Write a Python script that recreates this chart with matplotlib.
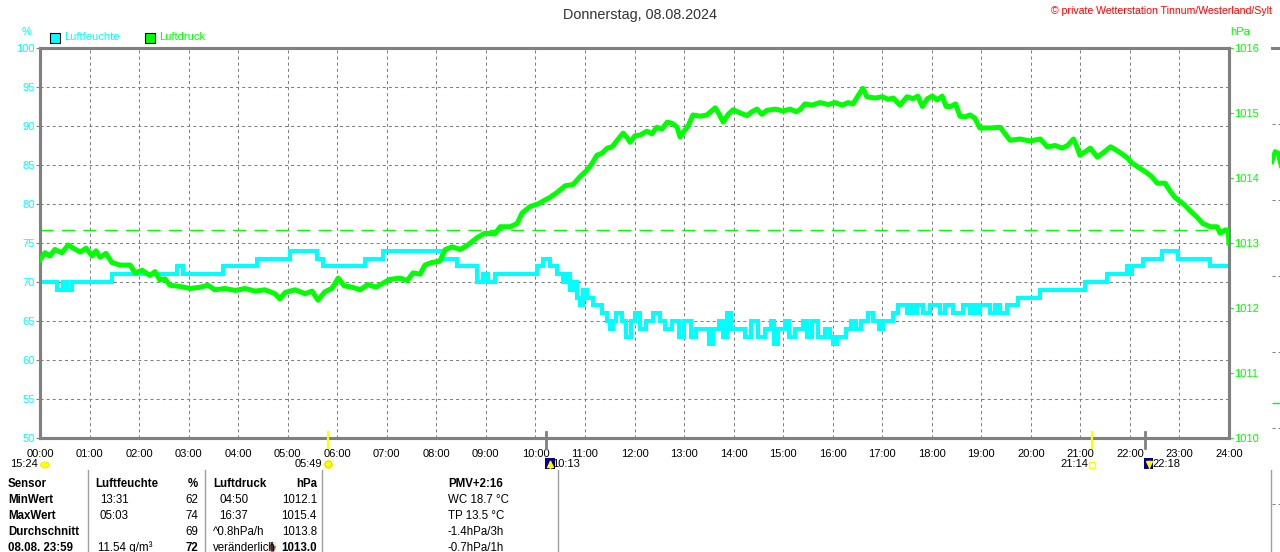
import matplotlib
matplotlib.use("Agg")
import matplotlib.pyplot as plt
from matplotlib.patches import Rectangle, Ellipse
from matplotlib.lines import Line2D
from matplotlib.transforms import blended_transform_factory

plt.rcParams['font.family'] = ['Liberation Sans', 'DejaVu Sans']
plt.rcParams['lines.scale_dashes'] = False

# ---------------- data ----------------
title = "Donnerstag, 08.08.2024"
copyright_text = "© private Wetterstation Tinnum/Westerland/Sylt"

hum_name = "Luftfeuchte"
pres_name = "Luftdruck"

hum_t = [0.00, 0.34, 0.46, 0.55, 0.65, 1.45, 2.77, 2.89, 3.69, 4.38,
         5.05, 5.59, 5.71, 6.56, 6.92, 8.11, 8.42, 8.82, 8.94, 9.04,
         9.18, 10.03, 10.15, 10.29, 10.44, 10.56, 10.64, 10.70, 10.78, 10.84,
         10.90, 10.96, 11.04, 11.16, 11.34, 11.45, 11.51, 11.57, 11.63, 11.75,
         11.83, 11.93, 12.01, 12.11, 12.23, 12.37, 12.51, 12.62, 12.76, 12.90,
         13.00, 13.14, 13.24, 13.50, 13.59, 13.71, 13.79, 13.87, 13.95, 14.23,
         14.35, 14.49, 14.63, 14.76, 14.82, 14.90, 15.04, 15.12, 15.24, 15.40,
         15.48, 15.58, 15.70, 15.85, 15.95, 16.01, 16.09, 16.27, 16.37, 16.47,
         16.57, 16.71, 16.81, 16.94, 17.02, 17.22, 17.32, 17.50, 17.56, 17.62,
         17.70, 17.82, 17.97, 18.17, 18.27, 18.43, 18.63, 18.77, 18.83, 18.91,
         18.97, 19.18, 19.28, 19.38, 19.52, 19.74, 20.19, 21.09, 21.54, 21.94,
         21.98, 22.04, 22.27, 22.65, 22.97, 23.62, 24.00]
hum_v = [70, 69, 70, 69, 70, 71, 72, 71, 72, 73,
         74, 73, 72, 73, 74, 73, 72, 70, 71, 70,
         71, 72, 73, 72, 71, 70, 71, 69, 70, 68,
         67, 69, 68, 67, 66, 65, 64, 65, 66, 65,
         63, 65, 66, 64, 65, 66, 65, 64, 65, 63,
         65, 63, 64, 62, 64, 65, 63, 66, 64, 63,
         65, 63, 64, 65, 62, 64, 65, 63, 64, 65,
         63, 65, 63, 64, 63, 62, 63, 64, 65, 64,
         65, 66, 65, 64, 65, 66, 67, 66, 67, 66,
         67, 66, 67, 66, 67, 66, 67, 66, 67, 66,
         67, 66, 67, 66, 67, 68, 69, 70, 71, 72,
         71, 72, 73, 74, 73, 72, 72]

pres_t = [0.00, 0.10, 0.20, 0.30, 0.44, 0.57, 0.67, 0.81, 0.93, 1.05,
          1.13, 1.21, 1.33, 1.45, 1.61, 1.82, 1.92, 2.06, 2.22, 2.32,
          2.42, 2.52, 2.62, 2.83, 3.03, 3.23, 3.39, 3.53, 3.73, 3.94,
          4.14, 4.34, 4.54, 4.74, 4.84, 4.95, 5.15, 5.35, 5.49, 5.61,
          5.75, 5.89, 6.02, 6.14, 6.30, 6.46, 6.62, 6.78, 6.92, 7.06,
          7.27, 7.41, 7.53, 7.67, 7.77, 7.91, 8.07, 8.18, 8.32, 8.48,
          8.62, 8.82, 8.98, 9.18, 9.29, 9.49, 9.63, 9.73, 9.89, 10.05,
          10.19, 10.29, 10.44, 10.60, 10.76, 10.90, 11.04, 11.14, 11.24, 11.34,
          11.45, 11.55, 11.65, 11.77, 11.85, 11.91, 12.01, 12.11, 12.25, 12.35,
          12.45, 12.55, 12.66, 12.76, 12.86, 12.92, 13.00, 13.08, 13.18, 13.32,
          13.46, 13.63, 13.71, 13.79, 13.89, 13.99, 14.13, 14.27, 14.37, 14.47,
          14.57, 14.67, 14.84, 15.00, 15.14, 15.26, 15.34, 15.44, 15.58, 15.74,
          15.91, 16.05, 16.19, 16.31, 16.41, 16.50, 16.61, 16.69, 16.85, 17.00,
          17.12, 17.22, 17.36, 17.50, 17.62, 17.72, 17.81, 17.91, 18.01, 18.11,
          18.21, 18.29, 18.38, 18.48, 18.57, 18.67, 18.77, 18.87, 18.97, 19.18,
          19.38, 19.48, 19.58, 19.78, 19.98, 20.19, 20.33, 20.49, 20.63, 20.74,
          20.86, 20.93, 20.99, 21.09, 21.20, 21.34, 21.48, 21.61, 21.74, 21.86,
          21.96, 22.04, 22.20, 22.34, 22.44, 22.55, 22.71, 22.81, 22.91, 23.01,
          23.11, 23.21, 23.35, 23.47, 23.62, 23.76, 23.82, 23.92, 23.98, 24.00]
pres_v = [1012.74, 1012.85, 1012.80, 1012.90, 1012.85, 1012.97, 1012.92, 1012.86, 1012.92, 1012.80,
          1012.88, 1012.78, 1012.84, 1012.70, 1012.66, 1012.66, 1012.54, 1012.58, 1012.50, 1012.56,
          1012.43, 1012.45, 1012.35, 1012.33, 1012.30, 1012.32, 1012.35, 1012.28, 1012.30, 1012.27,
          1012.30, 1012.26, 1012.28, 1012.22, 1012.14, 1012.24, 1012.28, 1012.22, 1012.26, 1012.12,
          1012.25, 1012.30, 1012.46, 1012.34, 1012.32, 1012.28, 1012.36, 1012.32, 1012.38, 1012.44,
          1012.46, 1012.42, 1012.54, 1012.52, 1012.66, 1012.70, 1012.72, 1012.90, 1012.94, 1012.90,
          1012.96, 1013.08, 1013.15, 1013.14, 1013.25, 1013.25, 1013.30, 1013.46, 1013.56, 1013.60,
          1013.66, 1013.70, 1013.78, 1013.88, 1013.90, 1014.02, 1014.12, 1014.22, 1014.35, 1014.38,
          1014.46, 1014.48, 1014.58, 1014.69, 1014.62, 1014.55, 1014.65, 1014.66, 1014.72, 1014.68,
          1014.78, 1014.75, 1014.86, 1014.84, 1014.78, 1014.63, 1014.72, 1014.80, 1014.97, 1014.95,
          1014.97, 1015.08, 1014.98, 1014.86, 1014.98, 1015.05, 1015.00, 1014.96, 1015.02, 1015.06,
          1014.98, 1015.04, 1015.06, 1015.03, 1015.06, 1015.02, 1015.05, 1015.14, 1015.12, 1015.16,
          1015.13, 1015.16, 1015.12, 1015.16, 1015.14, 1015.25, 1015.38, 1015.25, 1015.23, 1015.25,
          1015.21, 1015.23, 1015.12, 1015.25, 1015.22, 1015.26, 1015.10, 1015.22, 1015.26, 1015.20,
          1015.26, 1015.10, 1015.10, 1015.14, 1014.95, 1014.94, 1014.97, 1014.92, 1014.77, 1014.77,
          1014.78, 1014.68, 1014.58, 1014.60, 1014.57, 1014.60, 1014.48, 1014.50, 1014.46, 1014.50,
          1014.60, 1014.48, 1014.35, 1014.40, 1014.46, 1014.32, 1014.40, 1014.48, 1014.42, 1014.36,
          1014.30, 1014.23, 1014.15, 1014.08, 1014.02, 1013.92, 1013.92, 1013.80, 1013.70, 1013.64,
          1013.58, 1013.50, 1013.40, 1013.30, 1013.25, 1013.25, 1013.15, 1013.20, 1013.20, 1013.00]
pres_ref = 1013.2

hour_ticks = list(range(0, 25))
hour_labels = ["%02d:00" % h for h in hour_ticks]
hum_ticks = list(range(50, 101, 5))
pres_ticks = list(range(1010, 1017))

sun_times = [5 + 49 / 60, 21 + 14 / 60]
sun_labels = ["05:49", "21:14"]
moon_times = [10 + 13 / 60, 22 + 18 / 60]
moon_labels = ["10:13", "22:18"]
moon_phase_label = "15:24"

row_labels = ["Sensor", "MinWert", "MaxWert", "Durchschnitt", "08.08. 23:59"]
hum_col_time = ["Luftfeuchte", "13:31", "05:03", "", "11.54 g/m³"]
hum_col_val = ["%", "62", "74", "69", "72"]
pres_col_time = ["Luftdruck", "04:50", "16:37", "^0.8hPa/h", "veränderlich"]
pres_col_val = ["hPa", "1012.1", "1015.4", "1013.8", "1013.0"]
extra_col = ["PMV+2:16", "WC 18.7 °C", "TP 13.5 °C", "-1.4hPa/3h", "-0.7hPa/1h"]

# neighbouring chart fragment at right edge
frag_t = [0.0, 0.3, 0.6, 0.9, 1.2, 1.5]
frag_v = [4.50, 4.64, 4.62, 4.45, 4.63, 4.60]

# ---------------- figure ----------------
W, H = 1280, 552
fig = plt.figure(figsize=(12.8, 5.52), dpi=100)
fig.patch.set_facecolor('white')


def fx(x):
    return x / W


def fy(y):
    return 1 - y / H


CYAN = '#00FFFF'
GREEN = '#00FF00'
GRAY = '#808080'
FS = 8.0

ax = fig.add_axes([fx(40), fy(438), fx(1229) - fx(40), fy(48) - fy(438)])
ax.set_xlim(0, 24)
ax.set_ylim(50, 100)
ax.set_xticks(hour_ticks)
ax.set_xticklabels(hour_labels)
ax.set_yticks(hum_ticks)
ax.set_yticklabels([str(v) for v in hum_ticks])
ax.grid(True, color=GRAY, linestyle=(0, (2.2, 2.2)), linewidth=0.75)
ax.set_axisbelow(True)
ax.tick_params(axis='x', length=0, pad=8, labelsize=FS, labelcolor='black')
ax.tick_params(axis='y', length=3, width=0.8, color=GRAY, pad=1,
               labelsize=FS, labelcolor=CYAN)
for s in ax.spines.values():
    s.set_color(GRAY)
    s.set_linewidth(2.2)

ax.plot(hum_t, hum_v, color=CYAN, lw=2.9, drawstyle='steps-post',
        solid_joinstyle='miter', zorder=3)

ax2 = ax.twinx()
ax2.set_ylim(1010, 1016)
ax2.set_yticks(pres_ticks)
ax2.set_yticklabels([str(v) for v in pres_ticks])
ax2.tick_params(axis='y', length=3, width=0.8, color=GREEN, pad=1,
                labelsize=FS, labelcolor=GREEN)
for s in ax2.spines.values():
    s.set_color(GRAY)
    s.set_linewidth(2.2)
ax2.axhline(pres_ref, color=GREEN, lw=1.0, linestyle=(0, (9.4, 6.0)), zorder=2)
ax2.plot(pres_t, pres_v, color=GREEN, lw=3.6, zorder=4)

# axis unit labels and legend
fig.text(fx(27), fy(32), "%", color=CYAN, fontsize=FS, ha='center', va='center')
fig.text(fx(1240), fy(32), "hPa", color=GREEN, fontsize=FS, ha='center', va='center')
fig.add_artist(Rectangle((fx(50), fy(42.5)), 9.5 / W, 9.5 / H, transform=fig.transFigure,
                         facecolor=CYAN, edgecolor='black', lw=0.8))
fig.text(fx(64), fy(37.5), hum_name, color=CYAN, fontsize=FS, ha='left', va='center')
fig.add_artist(Rectangle((fx(145), fy(42.5)), 9.5 / W, 9.5 / H, transform=fig.transFigure,
                         facecolor=GREEN, edgecolor='black', lw=0.8))
fig.text(fx(159), fy(37.5), pres_name, color=GREEN, fontsize=FS, ha='left', va='center')

fig.text(fx(640), fy(15), title, color='#333333', fontsize=10.4, ha='center', va='center')
fig.text(fx(1272), fy(11), copyright_text, color='#FF0000', fontsize=7.6,
         ha='right', va='center')

# sun / moon events
bt = blended_transform_factory(ax.transData, fig.transFigure)
for t in sun_times:
    fig.add_artist(Line2D([t, t], [fy(432), fy(448)], transform=bt, color='#FFFF00',
                          lw=1.6, clip_on=False))
for t in moon_times:
    fig.add_artist(Line2D([t, t], [fy(432), fy(448)], transform=bt, color=GRAY,
                          lw=2.0, clip_on=False))
ROW2 = fy(464)
# moon phase at far left
fig.text(fx(38), ROW2, moon_phase_label, fontsize=FS, ha='right', va='center')
fig.add_artist(Ellipse((fx(45), fy(465)), 9 / W, 6 / H, transform=fig.transFigure,
                       facecolor='#FFFF00', edgecolor='#E8E800', lw=0.5))
# sunrise
fig.text(fx(322), ROW2, sun_labels[0], fontsize=FS, ha='right', va='center')
fig.add_artist(Line2D([sun_times[0]], [fy(464)], transform=bt, marker='+', ms=10,
                      mew=1.0, color='#FFFF99', clip_on=False))
fig.add_artist(Line2D([sun_times[0]], [fy(464)], transform=bt, marker='x', ms=7,
                      mew=1.0, color='#FFFF99', clip_on=False))
fig.add_artist(Line2D([sun_times[0]], [fy(464)], transform=bt, marker='o', ms=5,
                      color='#FFFF00', mec='#E0E000', clip_on=False))
# sunset
fig.text(fx(1088), ROW2, sun_labels[1], fontsize=FS, ha='right', va='center')
fig.add_artist(Line2D([sun_times[1]], [fy(465)], transform=bt, marker='s', ms=4.5,
                      mfc='none', mec='#FFFF00', mew=1.0, clip_on=False))
# moonrise / moonset icons
for t, mk in zip(moon_times, ['^', 'v']):
    fig.add_artist(Rectangle((t - 0.02, fy(469)), 0.19, 11 / H, transform=bt,
                             facecolor='#000080', edgecolor='none', clip_on=False))
    fig.add_artist(Line2D([t + 0.08], [fy(464)], transform=bt, marker=mk, ms=4,
                          color='#FFFF00', clip_on=False))
    fig.add_artist(Line2D([t + 0.08, t + 0.08], [fy(461), fy(468)], transform=bt,
                          color='#FFFF00', lw=1, clip_on=False))
fig.text(fx(552), ROW2, moon_labels[0], fontsize=FS, ha='left', va='center')
fig.text(fx(1152), ROW2, moon_labels[1], fontsize=FS, ha='left', va='center')

# ---------------- table ----------------
for xv in [88, 205, 322, 558, 1271]:
    fig.add_artist(Line2D([fx(xv), fx(xv)], [fy(470), 0], transform=fig.transFigure,
                          color='#A0A0A0', lw=1.0))
row_y = [484, 500, 516, 532, 548]
TFS = 8.3
for i, y in enumerate(row_y):
    head = (i == 0)
    last = (i == len(row_y) - 1)
    fig.text(fx(8), fy(y), row_labels[i], fontsize=TFS, fontweight='bold',
             ha='left', va='center')
    fig.text(fx(95 if head else (98 if last else 100)), fy(y), hum_col_time[i], fontsize=TFS,
             fontweight='bold' if head else 'normal', ha='left', va='center')
    fig.text(fx(198), fy(y), hum_col_val[i], fontsize=TFS,
             fontweight='bold' if (head or last) else 'normal', ha='right', va='center')
    fig.text(fx(213 if (head or i >= 3) else 219), fy(y), pres_col_time[i], fontsize=TFS,
             fontweight='bold' if head else 'normal', ha='left', va='center')
    fig.text(fx(317), fy(y), pres_col_val[i], fontsize=TFS,
             fontweight='bold' if (head or last) else 'normal', ha='right', va='center')
    fig.text(fx(448), fy(y), extra_col[i], fontsize=TFS,
             fontweight='bold' if head else 'normal', ha='left', va='center')
# tendency arrow icon
fig.add_artist(Rectangle((fx(268), fy(554)), 8 / W, 12 / H, transform=fig.transFigure,
                         facecolor='#E8E8F0', edgecolor='none'))
fig.add_artist(Line2D([fx(272)], [fy(549)], transform=fig.transFigure, marker='v', ms=5,
                      color='#C07020'))
fig.add_artist(Line2D([fx(272), fx(272)], [fy(543), fy(550)], transform=fig.transFigure,
                      color='#303060', lw=1.5))

# ---------------- neighbouring chart fragment ----------------
ax3 = fig.add_axes([fx(1272), fy(580), 40 / W, fy(48) - fy(580)])
ax3.set_xlim(0, 4)
ax3.set_ylim(-1, 6)
ax3.set_xticks([])
ax3.set_yticks([0, 1, 2, 3, 4, 5])
ax3.tick_params(length=0, labelleft=False)
ax3.grid(True, axis='y', color=GRAY, linestyle=(0, (2.2, 2.2)), linewidth=0.75)
ax3.patch.set_alpha(0)
for k, s in ax3.spines.items():
    s.set_visible(k == 'top')
    s.set_color(GRAY)
    s.set_linewidth(2.2)
ax3.axhline(1.33, color=GREEN, lw=1.0, linestyle=(0, (9.4, 6.0)))
ax3.plot(frag_t, frag_v, color=GREEN, lw=3.2)

fig.savefig("out.png", dpi=100)
